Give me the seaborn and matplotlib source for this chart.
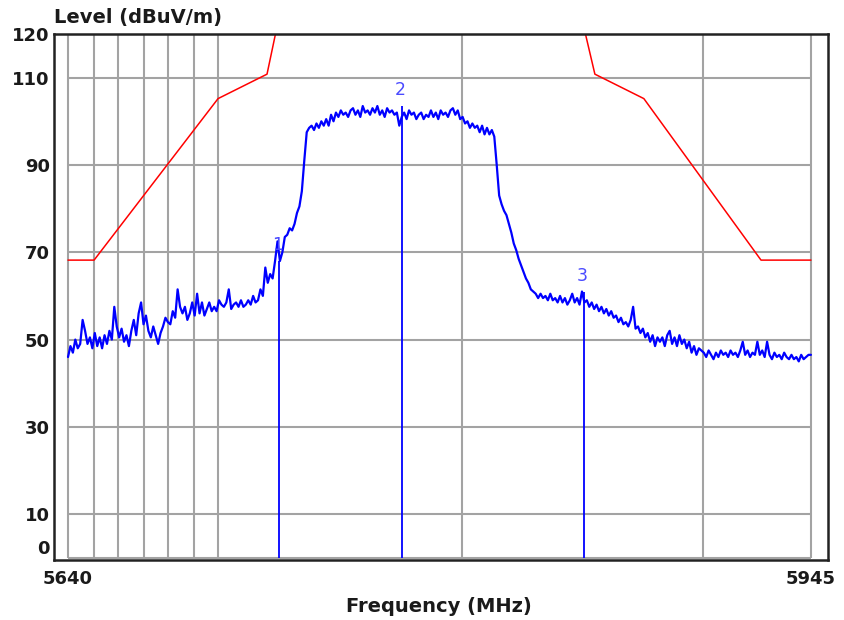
import numpy as np
import pandas as pd
import matplotlib
matplotlib.use("Agg")
import matplotlib.pyplot as plt
import matplotlib.transforms as mtransforms
import seaborn as sns

sns.set_theme(style="white")
plt.rcParams["font.family"] = ["DejaVu Sans"]

# sweep 5640..5945 MHz, one reading per MHz (dBuV/m)
freq_start, freq_stop = 5640, 5945
trace_level = [
    46.0, 48.5, 47.0, 50.0, 48.0, 49.0, 54.5, 52.0, 49.0, 50.5,
    48.0, 51.5, 48.5, 50.5, 48.0, 51.0, 49.0, 52.0, 50.0, 57.5,
    53.0, 50.5, 52.5, 49.5, 51.0, 48.5, 52.0, 54.5, 51.0, 56.0,
    58.5, 53.5, 55.5, 52.0, 50.5, 53.0, 51.0, 49.0, 51.5, 53.0,
    55.0, 54.0, 53.5, 56.5, 55.0, 61.5, 57.5, 56.0, 57.5, 54.5,
    56.0, 58.5, 55.5, 60.5, 56.0, 58.5, 55.5, 57.0, 58.5, 56.5,
    57.5, 56.5, 59.0, 58.0, 57.5, 58.5, 61.5, 57.0, 58.0, 58.5,
    57.5, 59.0, 57.5, 58.0, 59.0, 58.0, 60.0, 58.5, 59.0, 61.5,
    60.0, 66.5, 63.0, 65.0, 64.0, 68.0, 72.5, 68.0, 70.0, 73.5,
    74.0, 75.5, 75.0, 76.5, 79.0, 80.5, 84.0, 91.0, 97.5, 98.5,
    99.0, 98.0, 99.5, 98.5, 100.0, 99.0, 100.5, 99.0, 101.5, 100.0,
    102.0, 101.0, 102.5, 101.5, 102.0, 101.0, 102.5, 103.0, 101.5, 102.5,
    101.0, 103.5, 102.0, 102.5, 101.5, 103.0, 102.0, 103.5, 101.5, 102.5,
    101.0, 103.0, 102.0, 102.5, 101.5, 102.0, 99.0, 101.0, 102.0, 100.5,
    102.5, 101.5, 102.0, 100.5, 101.5, 102.0, 100.5, 101.5, 101.0, 102.5,
    101.0, 102.0, 100.5, 102.5, 101.5, 102.0, 101.0, 102.5, 103.0, 101.5,
    102.5, 100.5, 101.0, 99.5, 100.0, 98.5, 99.5, 98.5, 99.0, 97.5,
    99.0, 97.0, 98.5, 97.0, 98.0, 96.5, 90.0, 83.0, 81.0, 79.5,
    78.5, 76.5, 74.5, 72.0, 70.5, 68.5, 67.0, 65.5, 64.0, 63.0,
    61.5, 61.0, 60.5, 59.5, 60.5, 59.5, 60.0, 59.0, 60.5, 59.0,
    59.5, 58.5, 60.0, 58.5, 59.5, 58.0, 59.0, 60.5, 58.5, 59.5,
    58.0, 61.0, 58.5, 59.0, 57.5, 58.5, 57.0, 58.0, 56.5, 57.5,
    56.0, 57.0, 55.5, 56.5, 55.0, 55.5, 54.0, 55.0, 53.5, 54.0,
    53.0, 54.5, 57.5, 52.5, 53.0, 51.5, 52.5, 50.5, 51.5, 49.5,
    51.0, 48.5, 50.5, 49.5, 50.5, 48.5, 51.0, 52.0, 49.0, 50.5,
    48.5, 51.0, 49.0, 50.0, 48.0, 49.5, 47.0, 48.5, 46.5, 48.0,
    47.5, 47.0, 46.0, 47.5, 46.5, 45.5, 47.0, 46.0, 47.5, 46.5,
    47.0, 46.0, 47.5, 46.5, 47.0, 46.0, 47.5, 49.5, 46.5, 47.5,
    46.0, 47.0, 46.5, 49.5, 46.5, 47.5, 46.0, 49.5, 46.5, 45.5,
    47.0, 46.0, 46.5, 45.5, 47.0, 46.0, 45.5, 46.5, 45.5, 46.0,
    45.0, 46.5, 45.5, 46.0, 46.5, 46.5,
]

# limit line (band edge mask), corners as they sit on the screen
limit_freq = [5640, 5650.7, 5701.6, 5721.7, 5726.0, 5851.5, 5856.3, 5876.4, 5924.5, 5945]
limit_level = [68.2, 68.2, 105.2, 110.8, 122.2, 122.2, 110.8, 105.2, 68.2, 68.2]

# markers
marker_name = ["1", "2", "3"]
marker_freq = [5726.6, 5777.1, 5851.8]
marker_level = [68.0, 103.5, 61.0]

# grid as drawn by the receiver software
grid_freq = [5640, 5650.7, 5660.5, 5671.2, 5681.0, 5691.7, 5701.6, 5801.7, 5900.7, 5945]
ytick_level = [0, 10, 30, 50, 70, 90, 110, 120]

df = pd.DataFrame({"freq": np.arange(freq_start, freq_stop + 1), "level": trace_level})

fig = plt.figure(figsize=(8.45, 6.2), dpi=100)
ax = fig.add_axes([54 / 845, 60 / 620, 774 / 845, 526 / 620])

grid_col = "#a3a3a3"
ax.vlines(grid_freq, 0, 120, color=grid_col, lw=1.5, zorder=1)
ax.hlines(ytick_level, freq_start, freq_stop, color=grid_col, lw=1.5, zorder=1)

sns.lineplot(x=limit_freq, y=limit_level, color="#ff0000", lw=1.1,
             estimator=None, sort=False, ax=ax, zorder=2)
sns.lineplot(data=df, x="freq", y="level", color="#0000ff", lw=1.6,
             estimator=None, ax=ax, zorder=3)

ax.vlines(marker_freq, 0, marker_level, color="#0000ff", lw=1.3, zorder=3)
for name, f, lv in zip(marker_name, marker_freq, marker_level):
    ax.annotate(name, (f, lv), xytext=(-1, 5), textcoords="offset points",
                ha="center", va="bottom", fontsize=12.5, color="#4a4aff", zorder=4)

ax.set_xlim(5634.25, 5952.0)
ax.set_ylim(-0.5, 120)
ax.set_xticks([freq_start, freq_stop])
ax.set_yticks(ytick_level)
ax.tick_params(axis="both", length=0, labelsize=13, labelcolor="#1a1a1a")
ax.tick_params(axis="x", pad=7)
ax.tick_params(axis="y", pad=3)
for lab in ax.get_xticklabels() + ax.get_yticklabels():
    lab.set_fontweight("bold")
# the "0" label sits a bit above its line
zero_lab = ax.get_yticklabels()[0]
zero_lab.set_transform(zero_lab.get_transform()
                       + mtransforms.ScaledTranslation(0, 8 / 72, fig.dpi_scale_trans))
ax.set_xlabel("")
ax.set_ylabel("")

for s in ax.spines.values():
    s.set_color("#222222")
    s.set_linewidth(1.8)
    s.set_zorder(5)

fig.text(54 / 845, 1 - 17 / 620, "Level (dBuV/m)", ha="left", va="center",
         fontsize=14, fontweight="bold", color="#1a1a1a")
fig.text(439 / 845, 1 - 606 / 620, "Frequency (MHz)", ha="center", va="center",
         fontsize=14, fontweight="bold", color="#1a1a1a")

fig.savefig("out.png", dpi=100, facecolor="white")
